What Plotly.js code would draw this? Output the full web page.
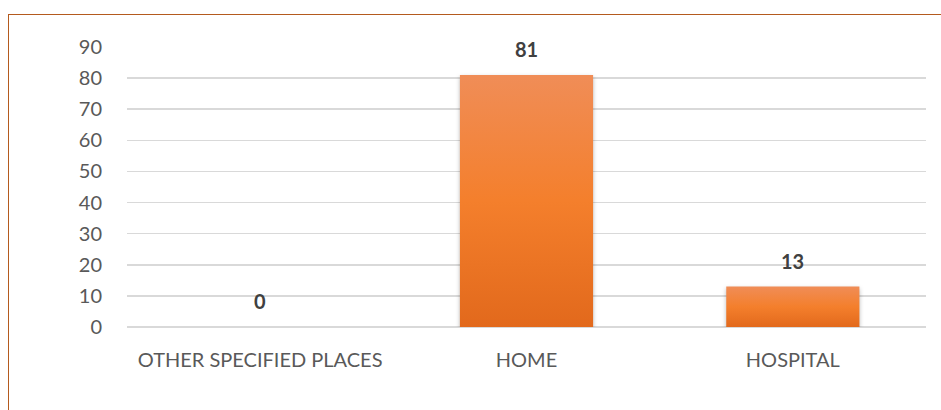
<!DOCTYPE html>
<html>
<head>
<meta charset="utf-8">
<script src="https://cdn.plot.ly/plotly-3.0.1.min.js"></script>
<style>
  html, body { margin: 0; padding: 0; background: #fff; }
  #wrap { position: relative; width: 941px; height: 410px; overflow: hidden; }
  #frame { position: absolute; left: 8px; top: 14px; width: 1000px; height: 500px;
           border-left: 1.5px solid #B45A1E; border-top: 1.5px solid #B45A1E; pointer-events: none; }
  #chart { position: absolute; left: 0; top: 0; }
  .bars path { filter: drop-shadow(0px 2px 2px rgba(0,0,0,0.28)); }
</style>
</head>
<body>
<div id="wrap">
  <div id="chart"></div>
  <div id="frame"></div>
</div>
<script>
const categories = ["OTHER SPECIFIED PLACES", "HOME", "HOSPITAL"];
const values = [0, 81, 13];
const yTicks = [0, 10, 20, 30, 40, 50, 60, 70, 80, 90];

const fontFamily = "Lato, 'Open Sans', sans-serif";

const trace = {
  type: "bar",
  x: categories,
  y: values,
  width: 0.5,
  marker: { color: "#F27F2E", line: { width: 0 } },
  hoverinfo: "none"
};

const annotations = categories.map((c, i) => ({
  x: c, y: values[i], xref: "x", yref: "y",
  text: "<b>" + values[i] + "</b>",
  showarrow: false, yanchor: "bottom", yshift: 12,
  font: { family: fontFamily, size: 20, color: "#404040" }
}));

const layout = {
  width: 941, height: 410,
  margin: { l: 127, r: 15, t: 47, b: 83 },
  paper_bgcolor: "#ffffff", plot_bgcolor: "#ffffff",
  showlegend: false,
  bargap: 0.5,
  xaxis: {
    type: "category",
    showgrid: false, zeroline: false, showline: false,
    ticks: "outside", ticklen: 15, tickcolor: "rgba(0,0,0,0)",
    tickfont: { family: fontFamily, size: 20, color: "#595959" },
    fixedrange: true
  },
  yaxis: {
    range: [0, 90],
    tickvals: yTicks,
    ticktext: yTicks.map(String),
    showgrid: true, gridcolor: "#D9D9D9", gridwidth: 1.5,
    zeroline: true, zerolinecolor: "#D9D9D9", zerolinewidth: 1.5,
    showline: false,
    ticks: "outside", ticklen: 20, tickcolor: "rgba(0,0,0,0)",
    tickfont: { family: fontFamily, size: 20, color: "#595959" },
    fixedrange: true
  },
  annotations: annotations
};

Plotly.newPlot("chart", [trace], layout, { displayModeBar: false, staticPlot: true }).then(gd => {
  const svg = gd.querySelector("svg.main-svg");
  const ns = "http://www.w3.org/2000/svg";
  let defs = svg.querySelector("defs");
  if (!defs) { defs = document.createElementNS(ns, "defs"); svg.insertBefore(defs, svg.firstChild); }
  const grad = document.createElementNS(ns, "linearGradient");
  grad.setAttribute("id", "barGrad");
  grad.setAttribute("x1", "0"); grad.setAttribute("y1", "0");
  grad.setAttribute("x2", "0"); grad.setAttribute("y2", "1");
  [["0%", "#F08D57"], ["50%", "#F47F2C"], ["100%", "#E2691C"]].forEach(([o, c]) => {
    const s = document.createElementNS(ns, "stop");
    s.setAttribute("offset", o); s.setAttribute("stop-color", c);
    grad.appendChild(s);
  });
  defs.appendChild(grad);
  gd.querySelectorAll(".bars .point path").forEach(p => { p.style.fill = "url(#barGrad)"; });
});
</script>
</body>
</html>
